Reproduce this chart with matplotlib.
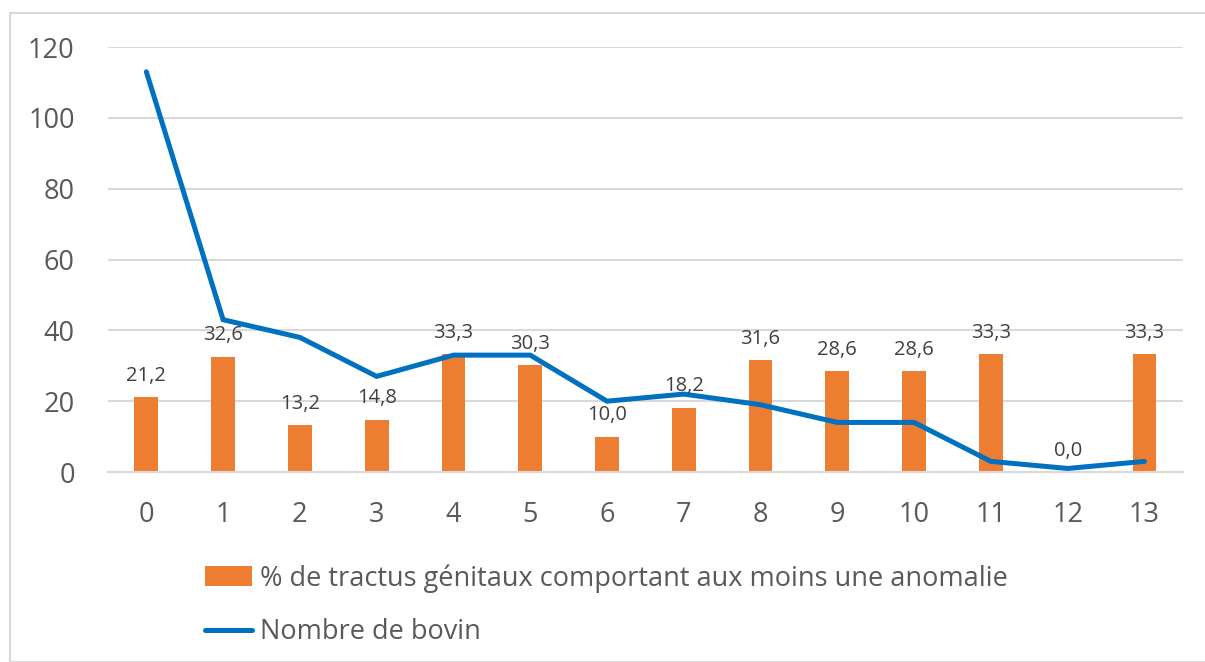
import matplotlib.pyplot as plt
from matplotlib.patches import Rectangle

plt.rcParams['font.family'] = ['Open Sans', 'DejaVu Sans']

categories = [str(i) for i in range(14)]
pct_anomalie = [21.2, 32.6, 13.2, 14.8, 33.3, 30.3, 10.0, 18.2, 31.6, 28.6, 28.6, 33.3, 0.0, 33.3]
nb_bovin = [113, 43, 38, 27, 33, 33, 20, 22, 19, 14, 14, 3, 1, 3]

fig = plt.figure(figsize=(12.05, 6.62), dpi=100)
ax = fig.add_axes([0.0896, 0.287, 0.892, 0.642])

x = list(range(len(categories)))
barres = ax.bar(x, pct_anomalie, width=0.31, color="#ED7D31", zorder=2,
                label="% de tractus génitaux comportant aux moins une anomalie")
ligne, = ax.plot(x, nb_bovin, color="#0070C0", lw=3.6, solid_capstyle="round",
                 solid_joinstyle="miter", zorder=3, label="Nombre de bovin")

# etiquettes de donnees avec virgule decimale
for xi, v in zip(x, pct_anomalie):
    ax.annotate(f"{v:.1f}".replace(".", ","), (xi, v), xytext=(0, 8),
                textcoords="offset points", ha="center", va="bottom",
                fontsize=14.5, color="#404040", zorder=4)

ax.set_xlim(-0.5, 13.5)
ax.set_ylim(0, 120)
ax.set_yticks(range(0, 121, 20))
ax.set_xticks(x)
ax.set_xticklabels(categories)
ax.tick_params(length=0, labelsize=19.5, labelcolor="#595959")
ax.tick_params(axis="x", pad=21)
ax.tick_params(axis="y", pad=24)
ax.grid(axis="y", color="#D9D9D9", lw=1.5, zorder=0)
for s in ["top", "right", "left"]:
    ax.spines[s].set_visible(False)
ax.spines["bottom"].set_color("#D9D9D9")
ax.spines["bottom"].set_linewidth(1.5)

fig.legend([barres, ligne], [barres.get_label(), ligne.get_label()],
           loc="upper left", bbox_to_anchor=(0.17, 0.148),
           frameon=False, fontsize=19.5, handlelength=1.75, handleheight=0.75,
           handletextpad=0.3, labelspacing=0.95, labelcolor="#595959",
           borderaxespad=0, borderpad=0)

fig.patches.append(Rectangle((10 / 1205, 0), 1.0, 1 - 13 / 662, transform=fig.transFigure,
                             fill=False, edgecolor="#D9D9D9", lw=1.5))

fig.savefig("out.png", dpi=100)
